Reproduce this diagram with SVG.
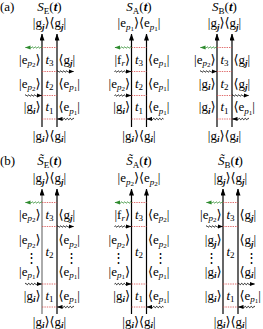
<svg xmlns="http://www.w3.org/2000/svg" width="263" height="329" viewBox="0 0 263 329">
<style>
text{font-family:"Liberation Serif","DejaVu Serif",serif;font-size:13px;fill:#000}
.i{font-style:italic}
.b{font-style:italic;font-weight:bold}
.s{font-size:9px}
.ss{font-size:7px}
.e{text-anchor:end}
.c{text-anchor:middle}
.vl{stroke:#000;stroke-width:1.2;fill:none}
.vg{stroke:#888;stroke-width:1.4;fill:none}
.rd{stroke:#d84a4a;stroke-width:0.8;stroke-dasharray:1.4 1}
</style>
<defs>
<marker id="va" markerUnits="userSpaceOnUse" markerWidth="7" markerHeight="5" refX="6.5" refY="2.5" orient="auto" viewBox="0 0 7 5"><path d="M7,2.5 L0,0 L0,5 z" fill="#000"/></marker>
<marker id="ak" markerUnits="userSpaceOnUse" markerWidth="6" markerHeight="5" refX="5" refY="2.5" orient="auto" viewBox="0 0 6 5"><path d="M0,0.4 L5.5,2.5 L0,4.6 z" fill="#000"/></marker>
<marker id="ag" markerUnits="userSpaceOnUse" markerWidth="6" markerHeight="5" refX="5" refY="2.5" orient="auto" viewBox="0 0 6 5"><path d="M0,0.4 L5.5,2.5 L0,4.6 z" fill="#2e8b2e"/></marker>
<path id="wk" d="M0,0 q0.75,-1.3 1.5,0 t1.5,0 t1.5,0 t1.5,0 t1.5,0 t1.5,0 t1.5,0 t1.5,0 L16.5,0" fill="none" stroke="#000" stroke-width="0.9" marker-end="url(#ak)"/>
<path id="wg" d="M0,0 q0.75,-1.3 1.5,0 t1.5,0 t1.5,0 t1.5,0 t1.5,0 t1.5,0 t1.5,0 t1.5,0 L16.5,0" fill="none" stroke="#2e8b2e" stroke-width="0.9" marker-end="url(#ag)"/>
</defs>

<text x="0" y="11">(a)</text>
<text x="0" y="165">(b)</text>

<!-- (a) E -->
<g id="panel-aE">
<text class="c" x="49.5" y="11"><tspan class="i">S</tspan><tspan class="s" dy="2.5">E</tspan><tspan dy="-2.5">(</tspan><tspan class="b">t</tspan>)</text>
<text class="c" x="49.5" y="27">|g<tspan class="s b" dy="2.5">j</tspan><tspan dy="-2.5">⟩⟨g</tspan><tspan class="s b" dy="2.5">j</tspan><tspan dy="-2.5">|</tspan></text>
<line class="vl" x1="42" y1="127" x2="42" y2="34" marker-end="url(#va)"/>
<line class="vl" x1="57" y1="127" x2="57" y2="34" marker-end="url(#va)"/>
<line class="rd" x1="42" y1="47.5" x2="57" y2="47.5"/>
<line class="rd" x1="42" y1="71.5" x2="57" y2="71.5"/>
<line class="rd" x1="42" y1="95.5" x2="57" y2="95.5"/>
<line class="rd" x1="42" y1="119" x2="57" y2="119"/>
<text class="e" x="40.5" y="63.5">|e<tspan class="s i" dy="2.5">p</tspan><tspan class="ss" dy="1.2">2</tspan><tspan dy="-3.7">⟩</tspan></text>
<text class="c" x="49.5" y="63.5"><tspan class="i">t</tspan><tspan class="s" dy="2.5">3</tspan></text>
<text x="58.5" y="63.5">⟨g<tspan class="s b" dy="2.5">j</tspan><tspan dy="-2.5">|</tspan></text>
<text class="e" x="40.5" y="87.5">|e<tspan class="s i" dy="2.5">p</tspan><tspan class="ss" dy="1.2">2</tspan><tspan dy="-3.7">⟩</tspan></text>
<text class="c" x="49.5" y="87.5"><tspan class="i">t</tspan><tspan class="s" dy="2.5">2</tspan></text>
<text x="58.5" y="87.5">⟨e<tspan class="s i" dy="2.5">p</tspan><tspan class="ss" dy="1.2">1</tspan><tspan dy="-3.7">|</tspan></text>
<text class="e" x="40.5" y="111">|g<tspan class="s b" dy="2.5">i</tspan><tspan dy="-2.5">⟩</tspan></text>
<text class="c" x="49.5" y="111"><tspan class="i">t</tspan><tspan class="s" dy="2.5">1</tspan></text>
<text x="58.5" y="111">⟨e<tspan class="s i" dy="2.5">p</tspan><tspan class="ss" dy="1.2">1</tspan><tspan dy="-3.7">|</tspan></text>
<text class="c" x="49.5" y="139.5">|g<tspan class="s b" dy="2.5">i</tspan><tspan dy="-2.5">⟩⟨g</tspan><tspan class="s b" dy="2.5">i</tspan><tspan dy="-2.5">|</tspan></text>
</g>

<!-- (a) A -->
<g id="panel-aA">
<text class="c" x="139" y="11"><tspan class="i">S</tspan><tspan class="s" dy="2.5">A</tspan><tspan dy="-2.5">(</tspan><tspan class="b">t</tspan>)</text>
<text class="c" x="139" y="27">|e<tspan class="s i" dy="2.5">p</tspan><tspan class="ss" dy="1.2">1</tspan><tspan dy="-3.7">⟩⟨e</tspan><tspan class="s i" dy="2.5">p</tspan><tspan class="ss" dy="1.2">1</tspan><tspan dy="-3.7">|</tspan></text>
<line class="vl" x1="131.5" y1="127" x2="131.5" y2="34" marker-end="url(#va)"/>
<line class="vl" x1="146.5" y1="127" x2="146.5" y2="34" marker-end="url(#va)"/>
<line class="rd" x1="131.5" y1="47.5" x2="146.5" y2="47.5"/>
<line class="rd" x1="131.5" y1="71.5" x2="146.5" y2="71.5"/>
<line class="rd" x1="131.5" y1="95.5" x2="146.5" y2="95.5"/>
<line class="rd" x1="131.5" y1="119" x2="146.5" y2="119"/>
<text class="e" x="130" y="63.5">|f<tspan class="s i" dy="2.5">r</tspan><tspan dy="-2.5">⟩</tspan></text>
<text class="c" x="139" y="63.5"><tspan class="i">t</tspan><tspan class="s" dy="2.5">3</tspan></text>
<text x="148" y="63.5">⟨e<tspan class="s i" dy="2.5">p</tspan><tspan class="ss" dy="1.2">1</tspan><tspan dy="-3.7">|</tspan></text>
<text class="e" x="130" y="87.5">|e<tspan class="s i" dy="2.5">p</tspan><tspan class="ss" dy="1.2">2</tspan><tspan dy="-3.7">⟩</tspan></text>
<text class="c" x="139" y="87.5"><tspan class="i">t</tspan><tspan class="s" dy="2.5">2</tspan></text>
<text x="148" y="87.5">⟨e<tspan class="s i" dy="2.5">p</tspan><tspan class="ss" dy="1.2">1</tspan><tspan dy="-3.7">|</tspan></text>
<text class="e" x="130" y="111">|g<tspan class="s b" dy="2.5">i</tspan><tspan dy="-2.5">⟩</tspan></text>
<text class="c" x="139" y="111"><tspan class="i">t</tspan><tspan class="s" dy="2.5">1</tspan></text>
<text x="148" y="111">⟨e<tspan class="s i" dy="2.5">p</tspan><tspan class="ss" dy="1.2">1</tspan><tspan dy="-3.7">|</tspan></text>
<text class="c" x="139" y="139.5">|g<tspan class="s b" dy="2.5">i</tspan><tspan dy="-2.5">⟩⟨g</tspan><tspan class="s b" dy="2.5">i</tspan><tspan dy="-2.5">|</tspan></text>
</g>

<!-- (a) B -->
<g id="panel-aB">
<text class="c" x="224.5" y="11"><tspan class="i">S</tspan><tspan class="s" dy="2.5">B</tspan><tspan dy="-2.5">(</tspan><tspan class="b">t</tspan>)</text>
<text class="c" x="224.5" y="27">|g<tspan class="s b" dy="2.5">j</tspan><tspan dy="-2.5">⟩⟨g</tspan><tspan class="s b" dy="2.5">j</tspan><tspan dy="-2.5">|</tspan></text>
<line class="vl" x1="217" y1="127" x2="217" y2="34" marker-end="url(#va)"/>
<line class="vl" x1="232" y1="127" x2="232" y2="34" marker-end="url(#va)"/>
<line class="rd" x1="217" y1="47.5" x2="232" y2="47.5"/>
<line class="rd" x1="217" y1="71.5" x2="232" y2="71.5"/>
<line class="rd" x1="217" y1="95.5" x2="232" y2="95.5"/>
<line class="rd" x1="217" y1="119" x2="232" y2="119"/>
<text class="e" x="215.5" y="63.5">|e<tspan class="s i" dy="2.5">p</tspan><tspan class="ss" dy="1.2">2</tspan><tspan dy="-3.7">⟩</tspan></text>
<text class="c" x="224.5" y="63.5"><tspan class="i">t</tspan><tspan class="s" dy="2.5">3</tspan></text>
<text x="233.5" y="63.5">⟨g<tspan class="s b" dy="2.5">j</tspan><tspan dy="-2.5">|</tspan></text>
<text class="e" x="215.5" y="87.5">|g<tspan class="s b" dy="2.5">i</tspan><tspan dy="-2.5">⟩</tspan></text>
<text class="c" x="224.5" y="87.5"><tspan class="i">t</tspan><tspan class="s" dy="2.5">2</tspan></text>
<text x="233.5" y="87.5">⟨g<tspan class="s b" dy="2.5">j</tspan><tspan dy="-2.5">|</tspan></text>
<text class="e" x="215.5" y="111">|g<tspan class="s b" dy="2.5">i</tspan><tspan dy="-2.5">⟩</tspan></text>
<text class="c" x="224.5" y="111"><tspan class="i">t</tspan><tspan class="s" dy="2.5">1</tspan></text>
<text x="233.5" y="111">⟨e<tspan class="s i" dy="2.5">p</tspan><tspan class="ss" dy="1.2">1</tspan><tspan dy="-3.7">|</tspan></text>
<text class="c" x="224.5" y="139.5">|g<tspan class="s b" dy="2.5">i</tspan><tspan dy="-2.5">⟩⟨g</tspan><tspan class="s b" dy="2.5">i</tspan><tspan dy="-2.5">|</tspan></text>
</g>

<!-- (b) E -->
<g id="panel-bE">
<text class="c" x="49.5" y="165"><tspan class="i">S̃</tspan><tspan class="s" dy="2.5">E</tspan><tspan dy="-2.5">(</tspan><tspan class="b">t</tspan>)</text>
<text class="c" x="49.5" y="182">|g<tspan class="s b" dy="2.5">j</tspan><tspan dy="-2.5">⟩⟨g</tspan><tspan class="s b" dy="2.5">j</tspan><tspan dy="-2.5">|</tspan></text>
<line class="vg" x1="42" y1="314" x2="42" y2="189" marker-end="url(#va)"/>
<line class="vl" x1="57" y1="314" x2="57" y2="189" marker-end="url(#va)"/>
<line class="rd" x1="42" y1="202.5" x2="57" y2="202.5"/>
<line class="rd" x1="42" y1="226.5" x2="57" y2="226.5"/>
<line class="rd" x1="42" y1="284" x2="57" y2="284"/>
<line class="rd" x1="42" y1="307" x2="57" y2="307"/>
<text class="e" x="40.5" y="218.5">|e<tspan class="s i" dy="2.5">p</tspan><tspan class="ss" dy="1.2">2</tspan><tspan dy="-3.7">⟩</tspan></text>
<text class="c" x="49.5" y="218.5"><tspan class="i">t</tspan><tspan class="s" dy="2.5">3</tspan></text>
<text x="58.5" y="218.5">⟨g<tspan class="s b" dy="2.5">j</tspan><tspan dy="-2.5">|</tspan></text>
<text class="e" x="40.5" y="244">|e<tspan class="s i" dy="2.5">p</tspan><tspan class="ss" dy="1.2">2</tspan><tspan dy="-3.7">⟩</tspan></text>
<text x="58.5" y="244">⟨e<tspan class="s i" dy="2.5">p</tspan><tspan class="ss" dy="1.2">2</tspan><tspan dy="-3.7">|</tspan></text>
<text class="c" x="31" y="262">⋮</text>
<text class="c" x="49.5" y="255.5"><tspan class="i">t</tspan><tspan class="s" dy="2.5">2</tspan></text>
<text class="c" x="71" y="262">⋮</text>
<text class="e" x="40.5" y="275.5">|e<tspan class="s i" dy="2.5">p</tspan><tspan class="ss" dy="1.2">1</tspan><tspan dy="-3.7">⟩</tspan></text>
<text x="58.5" y="275.5">⟨e<tspan class="s i" dy="2.5">p</tspan><tspan class="ss" dy="1.2">1</tspan><tspan dy="-3.7">|</tspan></text>
<text class="e" x="40.5" y="299.5">|g<tspan class="s b" dy="2.5">i</tspan><tspan dy="-2.5">⟩</tspan></text>
<text class="c" x="49.5" y="299.5"><tspan class="i">t</tspan><tspan class="s" dy="2.5">1</tspan></text>
<text x="58.5" y="299.5">⟨e<tspan class="s i" dy="2.5">p</tspan><tspan class="ss" dy="1.2">1</tspan><tspan dy="-3.7">|</tspan></text>
<text class="c" x="49.5" y="325.5">|g<tspan class="s b" dy="2.5">i</tspan><tspan dy="-2.5">⟩⟨g</tspan><tspan class="s b" dy="2.5">i</tspan><tspan dy="-2.5">|</tspan></text>
</g>

<!-- (b) A -->
<g id="panel-bA">
<text class="c" x="139" y="165"><tspan class="i">S̃</tspan><tspan class="s" dy="2.5">A</tspan><tspan dy="-2.5">(</tspan><tspan class="b">t</tspan>)</text>
<text class="c" x="139" y="182">|e<tspan class="s i" dy="2.5">p</tspan><tspan class="ss" dy="1.2">2</tspan><tspan dy="-3.7">⟩⟨e</tspan><tspan class="s i" dy="2.5">p</tspan><tspan class="ss" dy="1.2">2</tspan><tspan dy="-3.7">|</tspan></text>
<line class="vl" x1="131.5" y1="314" x2="131.5" y2="189" marker-end="url(#va)"/>
<line class="vl" x1="146.5" y1="314" x2="146.5" y2="189" marker-end="url(#va)"/>
<line class="rd" x1="131.5" y1="202.5" x2="146.5" y2="202.5"/>
<line class="rd" x1="131.5" y1="226.5" x2="146.5" y2="226.5"/>
<line class="rd" x1="131.5" y1="284" x2="146.5" y2="284"/>
<line class="rd" x1="131.5" y1="307" x2="146.5" y2="307"/>
<text class="e" x="130" y="218.5">|f<tspan class="s i" dy="2.5">r</tspan><tspan dy="-2.5">⟩</tspan></text>
<text class="c" x="139" y="218.5"><tspan class="i">t</tspan><tspan class="s" dy="2.5">3</tspan></text>
<text x="148" y="218.5">⟨e<tspan class="s i" dy="2.5">p</tspan><tspan class="ss" dy="1.2">2</tspan><tspan dy="-3.7">|</tspan></text>
<text class="e" x="130" y="244">|e<tspan class="s i" dy="2.5">p</tspan><tspan class="ss" dy="1.2">2</tspan><tspan dy="-3.7">⟩</tspan></text>
<text x="148" y="244">⟨e<tspan class="s i" dy="2.5">p</tspan><tspan class="ss" dy="1.2">2</tspan><tspan dy="-3.7">|</tspan></text>
<text class="c" x="118" y="262">⋮</text>
<text class="c" x="139" y="255.5"><tspan class="i">t</tspan><tspan class="s" dy="2.5">2</tspan></text>
<text class="c" x="160" y="262">⋮</text>
<text class="e" x="130" y="275.5">|e<tspan class="s i" dy="2.5">p</tspan><tspan class="ss" dy="1.2">1</tspan><tspan dy="-3.7">⟩</tspan></text>
<text x="148" y="275.5">⟨e<tspan class="s i" dy="2.5">p</tspan><tspan class="ss" dy="1.2">1</tspan><tspan dy="-3.7">|</tspan></text>
<text class="e" x="130" y="299.5">|g<tspan class="s b" dy="2.5">i</tspan><tspan dy="-2.5">⟩</tspan></text>
<text class="c" x="139" y="299.5"><tspan class="i">t</tspan><tspan class="s" dy="2.5">1</tspan></text>
<text x="148" y="299.5">⟨e<tspan class="s i" dy="2.5">p</tspan><tspan class="ss" dy="1.2">1</tspan><tspan dy="-3.7">|</tspan></text>
<text class="c" x="139" y="325.5">|g<tspan class="s b" dy="2.5">i</tspan><tspan dy="-2.5">⟩⟨g</tspan><tspan class="s b" dy="2.5">i</tspan><tspan dy="-2.5">|</tspan></text>
</g>

<!-- (b) B -->
<g id="panel-bB">
<text class="c" x="230.5" y="165"><tspan class="i">S̃</tspan><tspan class="s" dy="2.5">B</tspan><tspan dy="-2.5">(</tspan><tspan class="b">t</tspan>)</text>
<text class="c" x="230.5" y="182">|g<tspan class="s b" dy="2.5">j</tspan><tspan dy="-2.5">⟩⟨g</tspan><tspan class="s b" dy="2.5">j</tspan><tspan dy="-2.5">|</tspan></text>
<line class="vl" x1="223" y1="314" x2="223" y2="189" marker-end="url(#va)"/>
<line class="vl" x1="238" y1="314" x2="238" y2="189" marker-end="url(#va)"/>
<line class="rd" x1="223" y1="202.5" x2="238" y2="202.5"/>
<line class="rd" x1="223" y1="226.5" x2="238" y2="226.5"/>
<line class="rd" x1="223" y1="284" x2="238" y2="284"/>
<line class="rd" x1="223" y1="307" x2="238" y2="307"/>
<text class="e" x="221.5" y="218.5">|e<tspan class="s i" dy="2.5">p</tspan><tspan class="ss" dy="1.2">2</tspan><tspan dy="-3.7">⟩</tspan></text>
<text class="c" x="230.5" y="218.5"><tspan class="i">t</tspan><tspan class="s" dy="2.5">3</tspan></text>
<text x="239.5" y="218.5">⟨g<tspan class="s b" dy="2.5">j</tspan><tspan dy="-2.5">|</tspan></text>
<text class="e" x="221.5" y="244">|g<tspan class="s b" dy="2.5">j</tspan><tspan dy="-2.5">⟩</tspan></text>
<text x="239.5" y="244">⟨g<tspan class="s b" dy="2.5">j</tspan><tspan dy="-2.5">|</tspan></text>
<text class="c" x="211" y="262">⋮</text>
<text class="c" x="230.5" y="255.5"><tspan class="i">t</tspan><tspan class="s" dy="2.5">2</tspan></text>
<text class="c" x="251" y="262">⋮</text>
<text class="e" x="221.5" y="275.5">|g<tspan class="s b" dy="2.5">i</tspan><tspan dy="-2.5">⟩</tspan></text>
<text x="239.5" y="275.5">⟨g<tspan class="s b" dy="2.5">i</tspan><tspan dy="-2.5">|</tspan></text>
<text class="e" x="221.5" y="299.5">|g<tspan class="s b" dy="2.5">i</tspan><tspan dy="-2.5">⟩</tspan></text>
<text class="c" x="230.5" y="299.5"><tspan class="i">t</tspan><tspan class="s" dy="2.5">1</tspan></text>
<text x="239.5" y="299.5">⟨e<tspan class="s i" dy="2.5">p</tspan><tspan class="ss" dy="1.2">1</tspan><tspan dy="-3.7">|</tspan></text>
<text class="c" x="230.5" y="325.5">|g<tspan class="s b" dy="2.5">i</tspan><tspan dy="-2.5">⟩⟨g</tspan><tspan class="s b" dy="2.5">i</tspan><tspan dy="-2.5">|</tspan></text>
</g>

<g id="connectors">
<use href="#wg" transform="translate(42,47.5) scale(-1,1)"/>
<use href="#wk" transform="translate(25,71.5) scale(1,1) translate(32,0)"/>
<use href="#wk" transform="translate(25,95.5)"/>
<use href="#wk" transform="translate(74,119) scale(-1,1)"/>
<use href="#wg" transform="translate(131.5,47.5) scale(-1,1)"/>
<use href="#wk" transform="translate(114.5,71.5)"/>
<use href="#wk" transform="translate(114.5,95.5)"/>
<use href="#wk" transform="translate(163.5,119) scale(-1,1)"/>
<use href="#wg" transform="translate(217,47.5) scale(-1,1)"/>
<use href="#wk" transform="translate(200,71.5)"/>
<use href="#wk" transform="translate(232,95.5)"/>
<use href="#wk" transform="translate(249,119) scale(-1,1)"/>
<use href="#wg" transform="translate(42,202.5) scale(-1,1)"/>
<use href="#wk" transform="translate(57,226.5)"/>
<use href="#wk" transform="translate(25,284)"/>
<use href="#wk" transform="translate(74,307) scale(-1,1)"/>
<use href="#wg" transform="translate(131.5,202.5) scale(-1,1)"/>
<use href="#wk" transform="translate(114.5,226.5)"/>
<use href="#wk" transform="translate(114.5,284)"/>
<use href="#wk" transform="translate(163.5,307) scale(-1,1)"/>
<use href="#wg" transform="translate(223,202.5) scale(-1,1)"/>
<use href="#wk" transform="translate(206,226.5)"/>
<use href="#wk" transform="translate(238,284)"/>
<use href="#wk" transform="translate(255,307) scale(-1,1)"/>
</g>
</svg>
